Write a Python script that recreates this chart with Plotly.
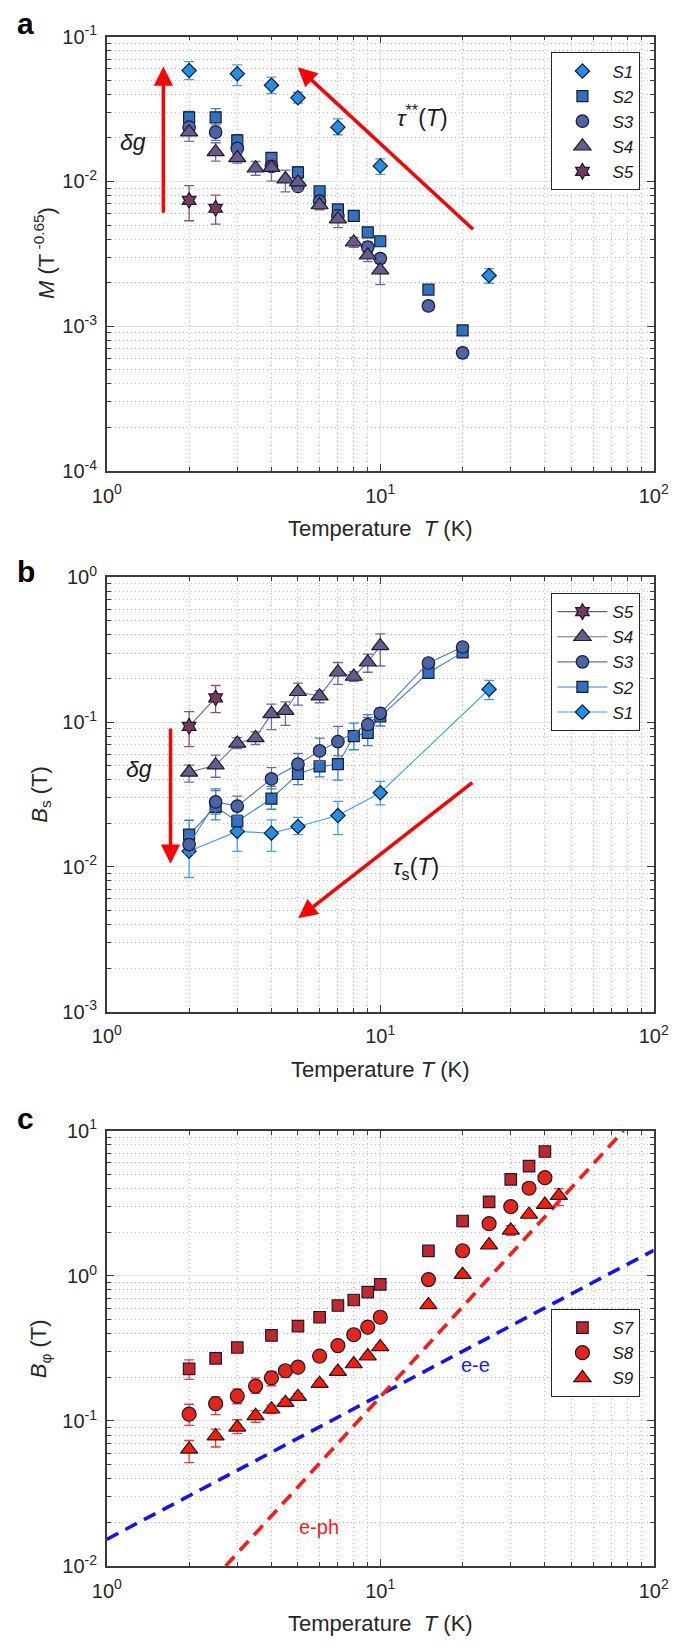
import numpy as np
import plotly.graph_objects as go

# ---------------- data: panel a (M vs T) ----------------
T_a1 = [2, 3, 4, 5, 7, 10, 25]
M_a1 = [0.0583, 0.0554, 0.0462, 0.0378, 0.0237, 0.0128, 0.00224]
M_a1_up = [0.0090, 0.0084, 0.0064, 0.0035, 0.0033, 0.0015, 0.00026]
M_a1_dn = [0.0078, 0.0095, 0.0057, 0.0030, 0.0027, 0.0016, 0.00026]

T_a2 = [2, 2.5, 3, 4, 5, 6, 7, 8, 9, 10, 15, 20]
M_a2 = [0.0277, 0.0277, 0.0192, 0.01456, 0.01156, 0.00855, 0.00641, 0.00578, 0.00445, 0.00386, 0.00179, 0.000935]
M_a2_err = [0.0028, 0.0041, 0.0018, 0.0012, 0.0011, 0.0006, 0.0005, 0.0003, 0.0003, 0.0003, 0.0001, 0.00005]

T_a3 = [2, 2.5, 3, 4, 5, 6, 7, 9, 10, 15, 20]
M_a3 = [0.0237, 0.0219, 0.0169, 0.0127, 0.00924, 0.00731, 0.00578, 0.00352, 0.00293, 0.00138, 0.000655]
M_a3_err = [0.0022, 0.0027, 0.0015, 0.0010, 0.0007, 0.0005, 0.0004, 0.0003, 0.0002, 0.0001, 0.00005]

T_a4 = [2, 2.5, 3, 3.5, 4, 4.5, 5, 6, 7, 8, 9, 10]
M_a4 = [0.0219, 0.0160, 0.01456, 0.01233, 0.01245, 0.01038, 0.00989, 0.00687, 0.00549, 0.00380, 0.00309, 0.00244]
M_a4_up = [0.0030, 0.0025, 0.0012, 0.0014, 0.0024, 0.0016, 0.0013, 0.0005, 0.0007, 0.0003, 0.0003, 0.0005]
M_a4_dn = [0.0030, 0.0022, 0.0012, 0.0013, 0.0024, 0.0019, 0.0013, 0.0005, 0.0007, 0.0003, 0.0003, 0.0005]

T_a5 = [2, 2.5]
M_a5 = [0.0074, 0.00652]
M_a5_up = [0.00195, 0.00151]
M_a5_dn = [0.00205, 0.00145]

# ---------------- data: panel b (Bs vs T) ----------------
T_b1 = [2, 3, 4, 5, 7, 10, 25]
B_b1 = [0.01284, 0.01758, 0.0171, 0.0190, 0.0226, 0.0325, 0.1686]
B_b1_up = [0.0037, 0.0053, 0.0040, 0.0030, 0.0057, 0.0064, 0.0254]
B_b1_dn = [0.0044, 0.0048, 0.0043, 0.0023, 0.0059, 0.0057, 0.0256]

T_b2 = [2, 2.5, 3, 4, 5, 6, 7, 8, 9, 10, 15, 20]
B_b2 = [0.01668, 0.0260, 0.0206, 0.0296, 0.0438, 0.0494, 0.0512, 0.0800, 0.0842, 0.1093, 0.219, 0.303]
B_b2_up = [0.0043, 0.0086, 0.0039, 0.0064, 0.0062, 0.0119, 0.0188, 0.0185, 0.0283, 0.0147, 0.010, 0.012]
B_b2_dn = [0.0043, 0.0049, 0.0026, 0.0046, 0.0068, 0.0076, 0.0115, 0.0156, 0.0155, 0.0153, 0.010, 0.012]

T_b3 = [2, 2.5, 3, 4, 5, 6, 7, 9, 10, 15, 20]
B_b3 = [0.01426, 0.0281, 0.0263, 0.0405, 0.0512, 0.0632, 0.0734, 0.0959, 0.115, 0.256, 0.330]
B_b3_up = [0.0020, 0.0055, 0.0045, 0.0080, 0.0095, 0.0144, 0.0201, 0.0120, 0.010, 0.015, 0.020]
B_b3_dn = [0.0020, 0.0050, 0.0040, 0.0059, 0.0080, 0.0100, 0.0150, 0.0100, 0.010, 0.015, 0.020]

T_b4 = [2, 2.5, 3, 3.5, 4, 4.5, 5, 6, 7, 8, 9, 10]
B_b4 = [0.0450, 0.0504, 0.0712, 0.0778, 0.114, 0.120, 0.162, 0.151, 0.221, 0.2065, 0.259, 0.336]
B_b4_up = [0.0055, 0.0088, 0.0068, 0.0077, 0.019, 0.018, 0.024, 0.014, 0.037, 0.0155, 0.036, 0.071]
B_b4_dn = [0.0065, 0.0088, 0.0057, 0.0078, 0.0253, 0.025, 0.031, 0.015, 0.039, 0.0155, 0.038, 0.092]

T_b5 = [2, 2.5]
B_b5 = [0.0935, 0.147]
B_b5_up = [0.0245, 0.032]
B_b5_dn = [0.0259, 0.0307]

# ---------------- data: panel c (Bphi vs T) ----------------
T_c7 = [2, 2.5, 3, 4, 5, 6, 7, 8, 9, 10, 15, 20, 25, 30, 35, 40]
B_c7 = [0.2286, 0.2704, 0.321, 0.389, 0.451, 0.519, 0.625, 0.682, 0.774, 0.873, 1.486, 2.39, 3.24, 4.63, 5.70, 7.20]
B_c7_err = [0.035, 0.019, 0.018, 0.012, 0.012, 0.012, 0.015, 0.015, 0.015, 0.02, 0.05, 0.2, 0.08, 0.1, 0.1, 0.15]

T_c8 = [2, 2.5, 3, 3.5, 4, 4.5, 5, 6, 7, 8, 9, 10, 15, 20, 25, 30, 35, 40]
B_c8 = [0.1114, 0.1316, 0.1485, 0.174, 0.198, 0.222, 0.235, 0.280, 0.331, 0.393, 0.444, 0.519, 0.944, 1.49, 2.29, 3.00, 4.02, 4.75]
B_c8_up = [0.019, 0.015, 0.018, 0.024, 0.022, 0.018, 0.012, 0.012, 0.012, 0.012, 0.012, 0.015, 0.03, 0.05, 0.06, 0.08, 0.1, 0.12]
B_c8_dn = [0.018, 0.021, 0.017, 0.019, 0.023, 0.022, 0.012, 0.012, 0.012, 0.012, 0.012, 0.015, 0.03, 0.05, 0.06, 0.08, 0.1, 0.12]

T_c9 = [2, 2.5, 3, 3.5, 4, 4.5, 5, 6, 7, 8, 9, 10, 15, 20, 25, 30, 35, 40, 45]
B_c9 = [0.0638, 0.0786, 0.0904, 0.1086, 0.1205, 0.1337, 0.147, 0.1808, 0.219, 0.247, 0.280, 0.324, 0.631, 1.02, 1.63, 2.06, 2.65, 3.10, 3.57]
B_c9_up = [0.0096, 0.0094, 0.0116, 0.0094, 0.008, 0.008, 0.008, 0.01, 0.01, 0.01, 0.01, 0.012, 0.02, 0.04, 0.05, 0.16, 0.08, 0.1, 0.42]
B_c9_dn = [0.0122, 0.0124, 0.0086, 0.0106, 0.008, 0.008, 0.008, 0.01, 0.01, 0.01, 0.01, 0.012, 0.02, 0.04, 0.05, 0.16, 0.08, 0.1, 0.52]

# model lines (end points)
ee_T = [1, 100]
ee_B = [0.0153, 1.50]
eph_T = [2.72, 77.5]
eph_B = [0.01, 10.0]

# axis ticks
x_tickvals = [1, 10, 100]
x_ticktext = ["10<sup>0</sup>", "10<sup>1</sup>", "10<sup>2</sup>"]
ya_tickvals = [1e-4, 1e-3, 1e-2, 1e-1]
ya_ticktext = ["10<sup>-4</sup>", "10<sup>-3</sup>", "10<sup>-2</sup>", "10<sup>-1</sup>"]
yb_tickvals = [1e-3, 1e-2, 1e-1, 1]
yb_ticktext = ["10<sup>-3</sup>", "10<sup>-2</sup>", "10<sup>-1</sup>", "10<sup>0</sup>"]
yc_tickvals = [1e-2, 1e-1, 1, 10]
yc_ticktext = ["10<sup>-2</sup>", "10<sup>-1</sup>", "10<sup>0</sup>", "10<sup>1</sup>"]

# annotation anchors (data coords)
arrow_a_vert = dict(tail=(1.61, 0.00593), tip=(1.61, 0.0622))
arrow_a_diag = dict(tail=(22.1, 0.00457), tip=(4.99, 0.0615))
arrow_b_vert = dict(tail=(1.71, 0.0925), tip=(1.71, 0.0105))
arrow_b_diag = dict(tail=(21.97, 0.0389), tip=(5.01, 0.00441))
txt_a_dg = (1.25, 0.0187)
txt_a_tau = (14.25, 0.0285)
txt_b_dg = (1.31, 0.0474)
txt_b_tau = (13.5, 0.0098)
txt_ee = (22.3, 0.245)
txt_eph = (5.95, 0.0187)

# ---------------- styling ----------------
W, H = 685, 1648
FONT = "Liberation Sans, Arial, Helvetica, sans-serif"
EDGE = "#1b1b2b"
col = {
    "S1": ("#1f8fe8", "#3d9ff0"),
    "S2": ("#2f72c2", "#3b7fce"),
    "S3": ("#4b63a8", "#5a71b3"),
    "S4": ("#675b8c", "#76679a"),
    "S5": ("#77395c", "#8a5073"),
    "S7": ("#c0282e", "#f03a3a"),
    "S8": ("#e3251c", "#f03a3a"),
    "S9": ("#ff1c00", "#f03a3a"),
}
sym = {"S1": ("diamond", 11), "S2": ("square", 11), "S3": ("circle", 12.5),
       "S4": ("triangle-up", 15), "S5": ("hexagram", 12),
       "S7": ("square", 11.5), "S8": ("circle", 14), "S9": ("triangle-up", 15)}

x_dom = [96 / W, 668 / W]
dom_a = [1 - 464 / H, 1 - 23 / H]
dom_b = [1 - 1013 / H, 1 - 572 / H]
dom_c = [1 - 1576 / H, 1 - 1134 / H]

fig = go.Figure()


def err(up, dn=None):
    d = dict(type="data", array=up, symmetric=dn is None, thickness=1.3, width=5)
    if dn is not None:
        d["arrayminus"] = dn
    return d


def add(name, T, V, up, dn, xa, ya, legend, lines=False):
    fill, ecol = col[name]
    s, size = sym[name]
    e = err(up, dn)
    e["color"] = ecol
    fig.add_trace(go.Scatter(
        x=T, y=V, name="<i>%s</i>" % name, xaxis=xa, yaxis=ya, legend=legend,
        mode="lines+markers" if lines else "markers",
        line=dict(color=ecol, width=1.1),
        marker=dict(symbol=s, size=size, color=fill, line=dict(color=EDGE, width=1.2)),
        error_y=e,
    ))


# panel a
add("S1", T_a1, M_a1, M_a1_up, M_a1_dn, "x", "y", "legend")
add("S2", T_a2, M_a2, M_a2_err, None, "x", "y", "legend")
add("S3", T_a3, M_a3, M_a3_err, None, "x", "y", "legend")
add("S4", T_a4, M_a4, M_a4_up, M_a4_dn, "x", "y", "legend")
add("S5", T_a5, M_a5, M_a5_up, M_a5_dn, "x", "y", "legend")
# panel b
add("S1", T_b1, B_b1, B_b1_up, B_b1_dn, "x2", "y2", "legend2", True)
add("S2", T_b2, B_b2, B_b2_up, B_b2_dn, "x2", "y2", "legend2", True)
add("S3", T_b3, B_b3, B_b3_up, B_b3_dn, "x2", "y2", "legend2", True)
add("S4", T_b4, B_b4, B_b4_up, B_b4_dn, "x2", "y2", "legend2", True)
add("S5", T_b5, B_b5, B_b5_up, B_b5_dn, "x2", "y2", "legend2", True)
# panel c lines
fig.add_trace(go.Scatter(x=ee_T, y=ee_B, mode="lines", xaxis="x3", yaxis="y3", showlegend=False,
                         line=dict(color="#1414f0", width=3.6, dash="13px,8px")))
fig.add_trace(go.Scatter(x=eph_T, y=eph_B, mode="lines", xaxis="x3", yaxis="y3", showlegend=False,
                         line=dict(color="#ff1a1a", width=3.6, dash="13px,8px")))
add("S7", T_c7, B_c7, B_c7_err, None, "x3", "y3", "legend3")
add("S8", T_c8, B_c8, B_c8_up, B_c8_dn, "x3", "y3", "legend3")
add("S9", T_c9, B_c9, B_c9_up, B_c9_dn, "x3", "y3", "legend3")

axis_common = dict(
    type="log", showline=True, linecolor="#3a3a3a", linewidth=1.5, mirror="ticks",
    ticks="inside", ticklen=7, tickwidth=1, tickcolor="#3a3a3a",
    showgrid=True, gridcolor="#e4e4e4", gridwidth=1.2, zeroline=False,
    tickfont=dict(family=FONT, size=20, color="#262626"),
    minor=dict(ticks="inside", ticklen=4, tickwidth=1, tickcolor="#3a3a3a", dtick="D1",
               showgrid=True, gridcolor="#c4c4c4", gridwidth=1, griddash="1px,3px"),
    tickmode="array",
)


def xaxis(anchor):
    d = dict(axis_common)
    d.update(domain=x_dom, range=[0, 2], anchor=anchor, tickvals=x_tickvals, ticktext=x_ticktext,
             ticklabelstandoff=6)
    return d


def yaxis(anchor, dom, rng, tv, tt):
    d = dict(axis_common)
    d.update(domain=dom, range=rng, anchor=anchor, tickvals=tv, ticktext=tt, ticklabelstandoff=4)
    return d


legend_common = dict(
    bgcolor="white", bordercolor="#262626", borderwidth=1,
    font=dict(family=FONT, size=17, color="#1a1a1a"),
    xanchor="left", yanchor="top", x=561 / W, itemwidth=50, tracegroupgap=0,
)

fig.update_layout(
    width=W, height=H, margin=dict(l=0, r=0, t=0, b=0),
    paper_bgcolor="white", plot_bgcolor="white",
    font=dict(family=FONT, color="#262626"),
    xaxis=xaxis("y"), xaxis2=xaxis("y2"), xaxis3=xaxis("y3"),
    yaxis=yaxis("x", dom_a, [-4, -1], ya_tickvals, ya_ticktext),
    yaxis2=yaxis("x2", dom_b, [-3, 0], yb_tickvals, yb_ticktext),
    yaxis3=yaxis("x3", dom_c, [-2, 1], yc_tickvals, yc_ticktext),
    legend=dict(legend_common, y=1 - 39 / H),
    legend2=dict(legend_common, y=1 - 588 / H, traceorder="reversed"),
    legend3=dict(legend_common, y=1 - 1315 / H),
)

L = np.log10
ann = []
# panel letters
for letter, ycen in (("a", 10), ("b", 566), ("c", 1122)):
    ann.append(dict(text="<b>%s</b>" % letter, xref="paper", yref="paper", x=0, y=1 - ycen / H,
                    xanchor="left", yanchor="middle", showarrow=False,
                    font=dict(family=FONT, size=30, color="black")))
# axis titles
for ycen, two in ((522, True), (1072, False), (1634, True)):
    sp = "&nbsp; " if two else " "
    ann.append(dict(text="Temperature" + sp + "<i>T</i> (K)", xref="paper", yref="paper",
                    x=382 / W, y=1 - ycen / H, xanchor="center", yanchor="middle", showarrow=False,
                    font=dict(family=FONT, size=22, color="#262626")))
for txt, xc, ycen in (("<i>M</i> (T<sup> -0.65</sup>)", 31, 243),
                      ("<i>B</i><sub>s</sub> (T)", 27, 792),
                      ("<i>B</i><sub>φ</sub> (T)", 27, 1355)):
    ann.append(dict(text=txt, xref="paper", yref="paper", x=xc / W, y=1 - ycen / H, textangle=-90,
                    xanchor="center", yanchor="middle", showarrow=False,
                    font=dict(family=FONT, size=22, color="#262626")))


def arrow(a, xr, yr):
    (tx, ty), (hx, hy) = a["tail"], a["tip"]
    return dict(x=L(hx), y=L(hy), ax=L(tx), ay=L(ty), xref=xr, yref=yr, axref=xr, ayref=yr,
                text="", showarrow=True, arrowhead=2, arrowsize=1.1, arrowwidth=3.5,
                arrowcolor="#ff0000", standoff=0, startstandoff=0)


ann += [arrow(arrow_a_vert, "x", "y"), arrow(arrow_a_diag, "x", "y"),
        arrow(arrow_b_vert, "x2", "y2"), arrow(arrow_b_diag, "x2", "y2")]


def label(txt, pos, xr, yr, color="#1a1a1a", size=23):
    return dict(text=txt, x=L(pos[0]), y=L(pos[1]), xref=xr, yref=yr, showarrow=False,
                font=dict(family=FONT, size=size, color=color))


ann += [
    label("<i>δg</i>", txt_a_dg, "x", "y"),
    label("<i>τ</i><sup>**</sup>(<i>T</i>)", txt_a_tau, "x", "y"),
    label("<i>δg</i>", txt_b_dg, "x2", "y2"),
    label("<i>τ</i><sub>s</sub>(<i>T</i>)", txt_b_tau, "x2", "y2"),
    label("e-e", txt_ee, "x3", "y3", color="#1a1aff", size=20),
    label("e-ph", txt_eph, "x3", "y3", color="#ff1a1a", size=20),
]
fig.update_layout(annotations=ann)

fig.write_html(
    "out.html",
    config={"displayModeBar": False},
    post_script="document.documentElement.style.margin='0';document.body.style.margin='0';"
                "document.body.style.padding='0';document.body.style.overflow='hidden';",
)
